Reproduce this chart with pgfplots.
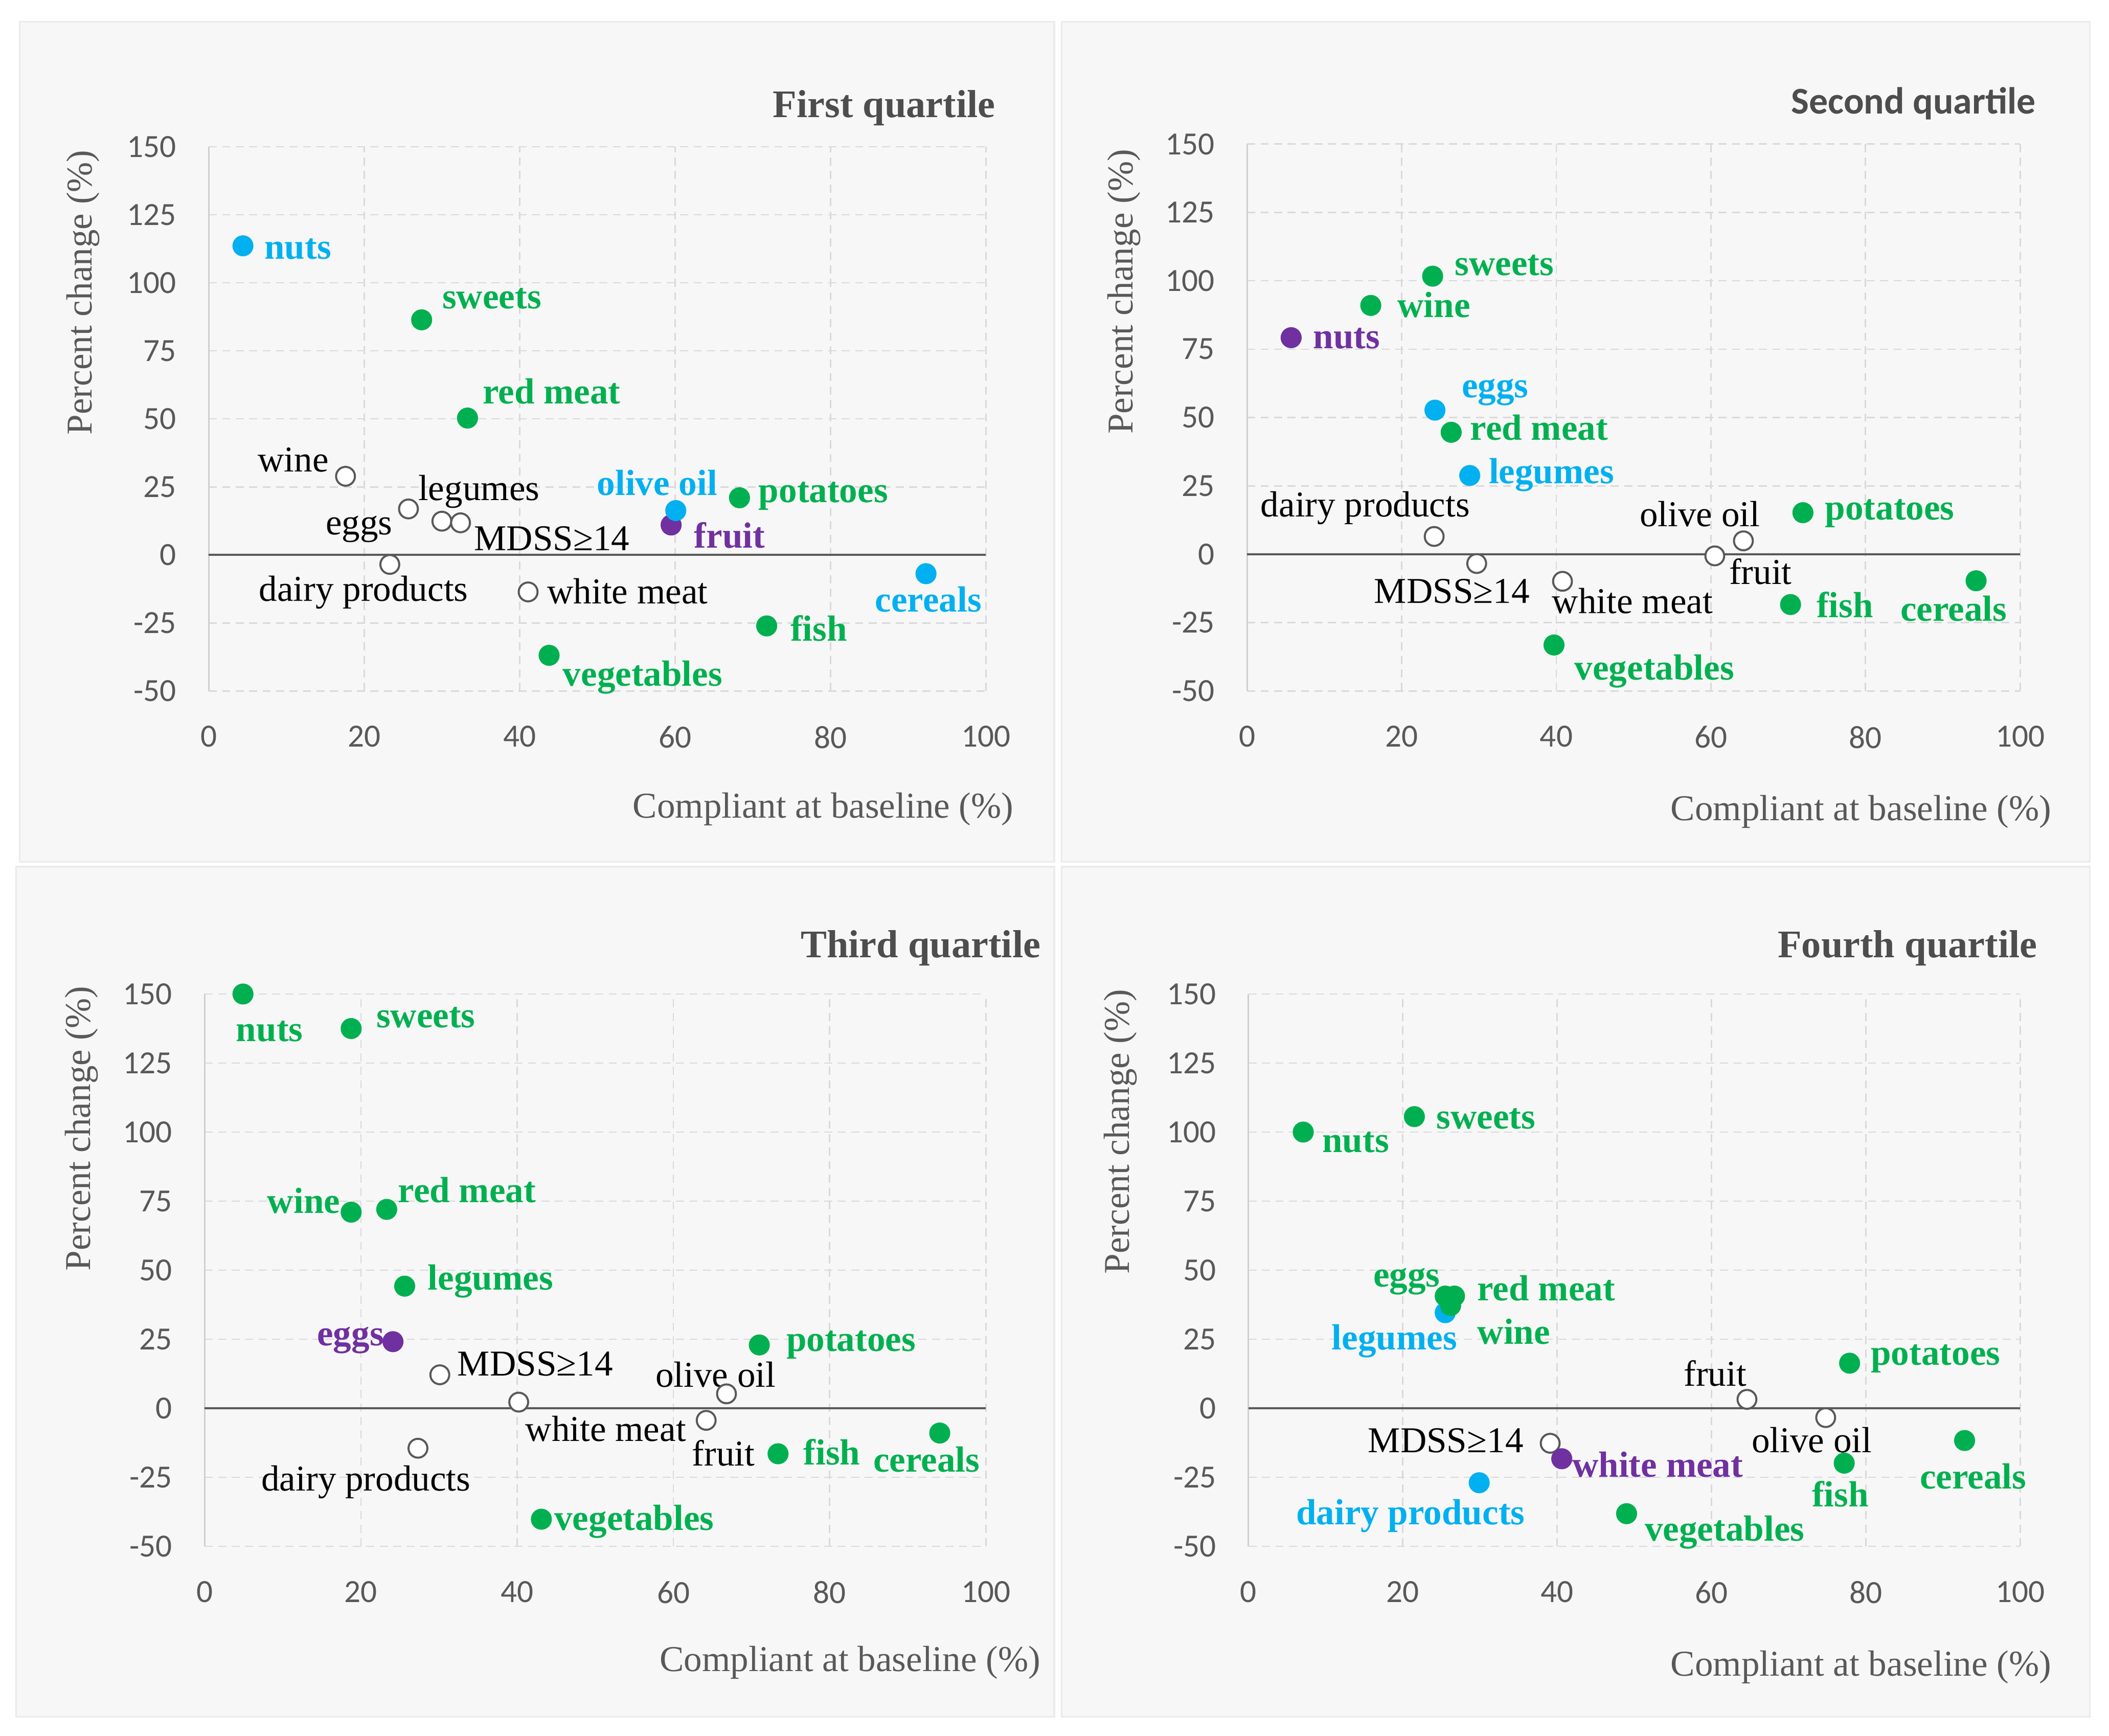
\documentclass[border=0pt]{standalone}
\usepackage{pgfplots}
\pgfplotsset{compat=1.18}
\usepackage{fontspec}
\setmainfont{Liberation Serif}
\newfontfamily\tickfont{Carlito}
\definecolor{cgreen}{HTML}{00B050}
\definecolor{cblue}{HTML}{00B0F0}
\definecolor{cpurple}{HTML}{7030A0}
\definecolor{cgray}{HTML}{595959}
\definecolor{ctitle}{HTML}{4D4D4D}
\definecolor{gridc}{HTML}{D9D9D9}
\definecolor{leftc}{HTML}{CFCFCF}
\definecolor{panelbg}{HTML}{F7F7F7}
\definecolor{panelbd}{HTML}{EBEBEB}
\pgfplotsset{
  panel/.style={
    scale only axis, anchor=south west,
    xmin=0, xmax=100, ymin=-50, ymax=150,
    xtick={0,20,40,60,80,100},
    ytick={-50,-25,0,25,50,75,100,125,150},
    xmajorgrids, ymajorgrids,
    major grid style={gridc, dash pattern=on 3pt off 2pt, line width=0.5pt},
    axis line style={draw=none},
    major tick length=0pt,
    tick style={draw=none},
    ticklabel style={font=\tickfont\fontsize{12}{14}\selectfont, text=cgray},
    xticklabel style={yshift=-9.5pt},
    yticklabel style={xshift=-8.5pt},
    /pgf/number format/assume math mode=true,
    clip=false,
  },
  gpts/.style={only marks, mark=*, mark size=3.7pt, mark options={fill=cgreen, draw=cgreen}},
  bpts/.style={only marks, mark=*, mark size=3.7pt, mark options={fill=cblue, draw=cblue}},
  ppts/.style={only marks, mark=*, mark size=3.7pt, mark options={fill=cpurple, draw=cpurple}},
  opts/.style={only marks, mark=*, mark size=3.5pt, mark options={fill=white, draw=cgray, line width=0.75pt}},
}
\tikzset{
  gl/.style={inner sep=0pt, yshift=-1.7pt, text=cgreen, font=\fontsize{13.5}{15}\selectfont\bfseries},
  bl/.style={inner sep=0pt, yshift=-1.7pt, text=cblue, font=\fontsize{13.5}{15}\selectfont\bfseries},
  pl/.style={inner sep=0pt, yshift=-1.7pt, text=cpurple, font=\fontsize{13.5}{15}\selectfont\bfseries},
  kl/.style={inner sep=0pt, yshift=-1.7pt, text=black, font=\fontsize{13.5}{15}\selectfont},
  ttl/.style={inner sep=0pt, text=ctitle, font=\fontsize{14.5}{16}\selectfont\bfseries, anchor=base east},
  xl/.style={inner sep=0pt, text=cgray, font=\fontsize{13.5}{15}\selectfont, anchor=base east},
  yl/.style={inner sep=0pt, text=cgray, font=\fontsize{13.5}{15}\selectfont, anchor=base east, rotate=90},
}
\begin{document}
\begin{tikzpicture}
\path[use as bounding box, fill=white] (0pt,0pt) rectangle (783pt,644.25pt);
% panel backgrounds
\filldraw[fill=panelbg, draw=panelbd, line width=0.6pt] (7.3pt,324.25pt) rectangle (391.4pt,636.15pt);
\filldraw[fill=panelbg, draw=panelbd, line width=0.6pt] (394.1pt,324.25pt) rectangle (775.8pt,636.15pt);
\filldraw[fill=panelbg, draw=panelbd, line width=0.6pt] (6pt,7pt) rectangle (391.4pt,322.5pt);
\filldraw[fill=panelbg, draw=panelbd, line width=0.6pt] (394.1pt,7pt) rectangle (775.8pt,322.5pt);

% ---------------- First quartile ----------------
\begin{axis}[panel, at={(77.5pt,387.75pt)}, width=288.5pt, height=202pt]
\draw[leftc, line width=0.6pt] (axis cs:0,-50) -- (axis cs:0,150);
\draw[cgray, line width=0.8pt] (axis cs:0,0) -- (axis cs:100,0);
\addplot[opts] coordinates {(17.6,28.9) (25.7,16.9) (30.0,12.4) (32.4,11.8) (23.3,-3.5) (41.1,-13.6)};
\addplot[ppts] coordinates {(59.5,11.0)};
\addplot[bpts] coordinates {(4.4,113.6) (60.1,16.3) (92.3,-6.9)};
\addplot[gpts] coordinates {(27.4,86.4) (33.3,50.3) (68.3,21.0) (71.8,-26.1) (43.8,-36.9)};
\node[bl, anchor=mid west] at (axis cs:7.1,112.8) {nuts};
\node[gl, anchor=mid west] at (axis cs:30.0,94.5) {sweets};
\node[gl, anchor=mid west] at (axis cs:35.2,59.5) {red meat};
\node[kl, anchor=mid east] at (axis cs:15.5,34.5) {wine};
\node[kl, anchor=mid west] at (axis cs:26.9,24.0) {legumes};
\node[kl, anchor=mid east] at (axis cs:23.7,11.5) {eggs};
\node[kl, anchor=mid west] at (axis cs:34.1,5.5) {MDSS≥14};
\node[kl, anchor=mid west] at (axis cs:6.4,-13.0) {dairy products};
\node[kl, anchor=mid west] at (axis cs:43.5,-14.0) {white meat};
\node[bl, anchor=mid east] at (axis cs:65.5,25.8) {olive oil};
\node[pl, anchor=mid west] at (axis cs:62.4,6.5) {fruit};
\node[gl, anchor=mid west] at (axis cs:70.7,23.3) {potatoes};
\node[bl, anchor=mid] at (axis cs:92.6,-17.0) {cereals};
\node[gl, anchor=mid west] at (axis cs:74.8,-27.6) {fish};
\node[gl, anchor=mid west] at (axis cs:45.5,-44.2) {vegetables};
\end{axis}

% ---------------- Second quartile ----------------
\begin{axis}[panel, at={(463pt,387.75pt)}, width=287pt, height=203pt]
\draw[leftc, line width=0.6pt] (axis cs:0,-50) -- (axis cs:0,150);
\draw[cgray, line width=0.8pt] (axis cs:0,0) -- (axis cs:100,0);
\addplot[opts] coordinates {(24.2,6.5) (29.7,-3.4) (40.8,-9.9) (60.5,-0.6) (64.2,4.9)};
\addplot[ppts] coordinates {(5.7,79.2)};
\addplot[bpts] coordinates {(24.3,52.7) (28.8,28.8)};
\addplot[gpts] coordinates {(24.0,101.7) (16.0,91.0) (26.4,44.6) (71.9,15.2) (70.3,-18.4) (94.3,-9.7) (39.7,-33.2)};
\node[gl, anchor=mid west] at (axis cs:26.8,106.0) {sweets};
\node[gl, anchor=mid west] at (axis cs:19.4,90.6) {wine};
\node[pl, anchor=mid west] at (axis cs:8.5,79.2) {nuts};
\node[bl, anchor=mid west] at (axis cs:27.7,61.3) {eggs};
\node[gl, anchor=mid west] at (axis cs:28.8,45.8) {red meat};
\node[bl, anchor=mid west] at (axis cs:31.2,29.8) {legumes};
\node[kl, anchor=mid west] at (axis cs:1.7,17.6) {dairy products};
\node[kl, anchor=mid] at (axis cs:26.5,-14.0) {MDSS≥14};
\node[kl, anchor=mid west] at (axis cs:39.4,-17.6) {white meat};
\node[kl, anchor=mid east] at (axis cs:66.4,14.2) {olive oil};
\node[kl, anchor=mid west] at (axis cs:62.3,-7.1) {fruit};
\node[gl, anchor=mid west] at (axis cs:74.7,16.6) {potatoes};
\node[gl, anchor=mid west] at (axis cs:73.6,-19.2) {fish};
\node[gl, anchor=mid] at (axis cs:91.4,-20.4) {cereals};
\node[gl, anchor=mid west] at (axis cs:42.3,-42.0) {vegetables};
\end{axis}

% ---------------- Third quartile ----------------
\begin{axis}[panel, at={(76pt,70.25pt)}, width=290pt, height=205pt]
\draw[leftc, line width=0.6pt] (axis cs:0,-50) -- (axis cs:0,150);
\draw[cgray, line width=0.8pt] (axis cs:0,0) -- (axis cs:100,0);
\addplot[opts] coordinates {(30.1,12.1) (40.2,2.2) (27.3,-14.5) (66.8,5.2) (64.2,-4.4)};
\addplot[ppts] coordinates {(24.1,24.1)};
\addplot[gpts] coordinates {(4.9,150) (18.75,137.5) (18.75,71.0) (23.3,72.0) (25.6,44.2) (71.0,22.9) (73.4,-16.5) (94.1,-9.0) (43.1,-40.2)};
\node[gl, anchor=mid] at (axis cs:8.3,136.8) {nuts};
\node[gl, anchor=mid west] at (axis cs:21.9,141.8) {sweets};
\node[gl, anchor=mid east] at (axis cs:17.4,74.5) {wine};
\node[gl, anchor=mid west] at (axis cs:24.7,78.5) {red meat};
\node[gl, anchor=mid west] at (axis cs:28.5,46.7) {legumes};
\node[pl, anchor=mid east] at (axis cs:23.0,26.6) {eggs};
\node[kl, anchor=mid west] at (axis cs:32.3,15.6) {MDSS≥14};
\node[kl, anchor=mid west] at (axis cs:41.0,-8.1) {white meat};
\node[kl, anchor=mid west] at (axis cs:7.2,-26.0) {dairy products};
\node[kl, anchor=mid] at (axis cs:65.4,11.6) {olive oil};
\node[kl, anchor=mid east] at (axis cs:70.5,-17.0) {fruit};
\node[gl, anchor=mid west] at (axis cs:74.4,24.6) {potatoes};
\node[gl, anchor=mid west] at (axis cs:76.6,-16.6) {fish};
\node[gl, anchor=mid] at (axis cs:92.4,-19.2) {cereals};
\node[gl, anchor=mid west] at (axis cs:44.7,-40.3) {vegetables};
\end{axis}

% ---------------- Fourth quartile ----------------
\begin{axis}[panel, at={(463.5pt,70.25pt)}, width=286.5pt, height=205pt]
\draw[leftc, line width=0.6pt] (axis cs:0,-50) -- (axis cs:0,150);
\draw[cgray, line width=0.8pt] (axis cs:0,0) -- (axis cs:100,0);
\addplot[opts] coordinates {(64.6,3.2) (74.8,-3.4) (39.1,-12.7)};
\addplot[bpts] coordinates {(25.5,34.6) (29.9,-27.0)};
\addplot[ppts] coordinates {(40.6,-18.3)};
\addplot[gpts] coordinates {(7.1,100) (21.5,105.6) (25.5,40.6) (26.7,40.6) (26.2,37.2) (77.9,16.3) (49.0,-38.2) (77.2,-19.9) (92.8,-11.7)};
\node[gl, anchor=mid west] at (axis cs:9.5,96.5) {nuts};
\node[gl, anchor=mid west] at (axis cs:24.3,105.1) {sweets};
\node[gl, anchor=mid east] at (axis cs:24.9,47.8) {eggs};
\node[gl, anchor=mid west] at (axis cs:29.6,42.8) {red meat};
\node[bl, anchor=mid east] at (axis cs:27.1,25.1) {legumes};
\node[gl, anchor=mid west] at (axis cs:29.6,27.1) {wine};
\node[kl, anchor=mid east] at (axis cs:64.6,12.0) {fruit};
\node[kl, anchor=mid] at (axis cs:73.0,-12.2) {olive oil};
\node[gl, anchor=mid west] at (axis cs:80.6,19.6) {potatoes};
\node[kl, anchor=mid east] at (axis cs:35.7,-12.2) {MDSS≥14};
\node[pl, anchor=mid west] at (axis cs:41.9,-21.0) {white meat};
\node[bl, anchor=mid] at (axis cs:21.0,-38.3) {dairy products};
\node[gl, anchor=mid west] at (axis cs:51.3,-44.2) {vegetables};
\node[gl, anchor=mid] at (axis cs:76.7,-31.7) {fish};
\node[gl, anchor=mid] at (axis cs:93.9,-25.2) {cereals};
\end{axis}

% titles
\node[ttl] at (369.7pt,600.75pt) {First quartile};
\node[ttl, font=\tickfont\fontsize{14}{16}\selectfont\bfseries] at (756pt,602.1pt) {Second quartile};
\node[ttl] at (386.5pt,288.75pt) {Third quartile};
\node[ttl] at (756.5pt,288.75pt) {Fourth quartile};
% x labels
\node[xl] at (376.5pt,340.6pt) {Compliant at baseline (\%)};
\node[xl] at (761.8pt,339.6pt) {Compliant at baseline (\%)};
\node[xl] at (386.5pt,23.9pt) {Compliant at baseline (\%)};
\node[xl] at (761.8pt,22.2pt) {Compliant at baseline (\%)};
% y labels
\node[yl] at (34pt,588.75pt) {Percent change (\%)};
\node[yl] at (420.5pt,589pt) {Percent change (\%)};
\node[yl] at (33.5pt,278.4pt) {Percent change (\%)};
\node[yl] at (419.3pt,277.25pt) {Percent change (\%)};
\end{tikzpicture}
\end{document}
